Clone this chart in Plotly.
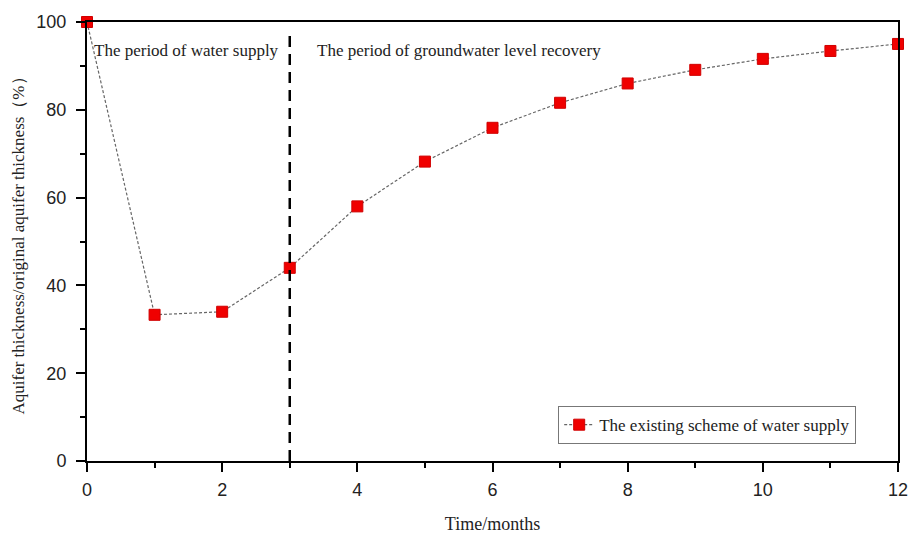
import plotly.graph_objects as go

months = [0, 1, 2, 3, 4, 5, 6, 7, 8, 9, 10, 11, 12]
ratio = [100, 33.3, 34.0, 44.0, 58.0, 68.2, 75.9, 81.6, 86.0, 89.1, 91.6, 93.4, 95.0]
divider_x = 3
series_name = "The existing scheme of water supply"
label_supply = "The period of water supply"
label_recovery = "The period of groundwater level recovery"

fig = go.Figure()
fig.add_trace(go.Scatter(
    x=months, y=ratio, mode="lines+markers", name=series_name,
    line=dict(color="#666666", width=1.2, dash="3px,2px"),
    marker=dict(symbol="square", size=11, color="#f00000", line=dict(color="#d00000", width=1)),
    cliponaxis=False,
))
fig.add_shape(type="line", x0=divider_x, x1=divider_x, y0=0, y1=97.7, xref="x", yref="y",
              line=dict(color="black", width=2.5, dash="11px,7px"))
fig.add_annotation(x=0.07, y=93.6, xref="x", yref="y", text=label_supply, showarrow=False,
                   xanchor="left", yanchor="middle", font=dict(family="Liberation Serif", size=17, color="#222"))
fig.add_annotation(x=3.38, y=93.6, xref="x", yref="y", text=label_recovery, showarrow=False,
                   xanchor="left", yanchor="middle", font=dict(family="Liberation Serif", size=17, color="#222"))

axis_common = dict(showline=True, linecolor="black", linewidth=2, mirror=True, showgrid=False,
                   zeroline=False, ticks="outside", ticklen=9, tickwidth=2, tickcolor="black",
                   automargin=False,
                   tickfont=dict(family="Liberation Sans", size=18, color="#222"))
fig.update_xaxes(range=[0, 12], dtick=2, tick0=0, ticklabelstandoff=2,
                 minor=dict(ticks="outside", ticklen=5, tickwidth=2, tickcolor="black", dtick=1),
                 title=dict(text="Time/months", font=dict(family="Liberation Serif", size=18, color="#222"), standoff=24),
                 **axis_common)
fig.update_yaxes(range=[0, 100], dtick=20, tick0=0, ticklabelstandoff=6,
                 minor=dict(ticks="outside", ticklen=5, tickwidth=2, tickcolor="black", dtick=10),
                 title=dict(text="Aquifer thickness/original aquifer thickness（%）", font=dict(family="Liberation Serif", size=17, color="#222"), standoff=7),
                 **axis_common)
fig.update_layout(
    width=911, height=534, paper_bgcolor="white", plot_bgcolor="white",
    margin=dict(l=87, r=13, t=22, b=73),
    showlegend=True,
    legend=dict(x=0.581, y=0.125, xanchor="left", yanchor="top", bgcolor="white",
                bordercolor="#777", borderwidth=1,
                font=dict(family="Liberation Serif", size=17, color="#222"),
                itemwidth=30),
)
fig.write_html("out.html")
